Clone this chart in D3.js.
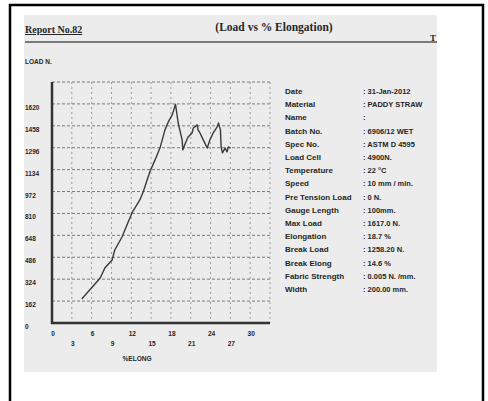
<!DOCTYPE html>
<html>
<head>
<meta charset="utf-8">
<script src="https://cdn.jsdelivr.net/npm/d3@7"></script>
<style>
  html, body { margin: 0; padding: 0; background: #fff; }
  svg { display: block; }
</style>
</head>
<body>
<svg id="chart" width="488" height="401"></svg>
<script>
// Tensile test: load vs % elongation
const elongation = [4.5, 7.3, 8.0, 9.1, 9.5, 10.6, 12.1, 13.3, 13.8, 14.8, 15.6, 16.4, 17.1, 17.6, 18.2, 18.7,
  19.1, 19.7, 19.8, 20.2, 20.6, 21.2, 21.4, 22.0, 22.1, 22.4, 22.9, 23.5, 23.9, 24.4, 25.0, 25.2,
  25.5, 25.6, 25.8, 25.9, 26.2, 26.5, 26.7, 27.0];
const load = [178, 333, 407, 466, 540, 636, 814, 910, 969, 1117, 1206, 1302, 1428, 1487, 1539, 1617,
  1479, 1354, 1280, 1331, 1376, 1405, 1442, 1465, 1428, 1405, 1354, 1294, 1354, 1405, 1450, 1479,
  1428, 1302, 1258, 1265, 1294, 1265, 1302, 1294];

const loadTicks = [0, 162, 324, 486, 648, 810, 972, 1134, 1296, 1458, 1620];
const elongTicks = [0, 3, 6, 9, 12, 15, 18, 21, 24, 27, 30];

const infoLabels = ["Date", "Material", "Name", "Batch No.", "Spec No.", "Load Cell", "Temperature",
  "Speed", "Pre Tension Load", "Gauge Length", "Max Load", "Elongation", "Break Load",
  "Break Elong", "Fabric Strength", "Width"];
const infoValues = [": 31-Jan-2012", ": PADDY STRAW", ":", ": 6906/12 WET", ": ASTM D 4595", ": 4900N.",
  ": 22 °C", ": 10 mm / min.", ": 0 N.", ": 100mm.", ": 1617.0 N.", ": 18.7 %", ": 1258.20 N.",
  ": 14.6 %", ": 0.005 N. /mm.", ": 200.00 mm."];

const svg = d3.select("#chart");
const ink = "#262626";

// page frame
svg.append("line").attr("x1", 10).attr("x2", 10).attr("y1", 4).attr("y2", 401)
  .attr("stroke", "#000").attr("stroke-width", 2.5);
svg.append("line").attr("x1", 483).attr("x2", 483).attr("y1", 4).attr("y2", 401)
  .attr("stroke", "#000").attr("stroke-width", 2.5);
svg.append("line").attr("x1", 9).attr("x2", 484).attr("y1", 5).attr("y2", 5)
  .attr("stroke", "#000").attr("stroke-width", 2.5);

// sheet
svg.append("rect").attr("x", 24).attr("y", 15).attr("width", 413).attr("height", 357)
  .attr("fill", "#ececec");

// header
svg.append("text").attr("x", 25).attr("y", 33).text("Report No.82")
  .attr("font-family", "Liberation Serif").attr("font-size", 10).attr("font-weight", "bold")
  .attr("fill", ink).attr("text-decoration", "underline");
svg.append("text").attr("x", 274).attr("y", 31).attr("text-anchor", "middle")
  .text("(Load vs % Elongation)")
  .attr("font-family", "Liberation Serif").attr("font-size", 11.5).attr("font-weight", "bold").attr("fill", ink);
svg.append("text").attr("x", 430).attr("y", 41).text("T")
  .attr("font-family", "Liberation Serif").attr("font-size", 9).attr("font-weight", "bold").attr("fill", ink);
svg.append("line").attr("x1", 25).attr("x2", 437).attr("y1", 42).attr("y2", 42)
  .attr("stroke", "#555").attr("stroke-width", 1.3);

svg.append("text").attr("x", 25).attr("y", 64).text("LOAD N.")
  .attr("font-family", "Liberation Sans").attr("font-size", 6.5).attr("font-weight", "bold").attr("fill", ink);

// scales
const x = d3.scaleLinear().domain([0, 33]).range([52, 270]);
const y = d3.scaleLinear().domain([0, 1782]).range([323, 82]);

// grid
const grid = svg.append("g");
grid.selectAll("line.h").data(loadTicks.slice(1).concat([1782])).join("line")
  .attr("x1", x(0)).attr("x2", x(33)).attr("y1", d => y(d)).attr("y2", d => y(d))
  .attr("stroke", "#7a7a7a").attr("stroke-width", 1).attr("stroke-dasharray", "3,2");
grid.selectAll("line.v").data(elongTicks.slice(1).concat([33])).join("line")
  .attr("x1", d => x(d)).attr("x2", d => x(d)).attr("y1", y(1782)).attr("y2", y(0))
  .attr("stroke", "#9a9a9a").attr("stroke-width", 1).attr("stroke-dasharray", "2,3");

// axes
svg.append("line").attr("x1", x(0)).attr("x2", x(0)).attr("y1", y(1782)).attr("y2", y(0) + 1)
  .attr("stroke", "#333").attr("stroke-width", 2.5);
svg.append("line").attr("x1", x(0) - 1).attr("x2", x(33)).attr("y1", y(0)).attr("y2", y(0))
  .attr("stroke", "#333").attr("stroke-width", 2.5);

// tick labels
svg.append("g").selectAll("text").data(loadTicks).join("text")
  .attr("x", 25).attr("y", d => y(d) + 6).text(d => d)
  .attr("font-family", "Liberation Sans").attr("font-size", 6.5).attr("font-weight", "bold").attr("fill", ink);
svg.append("g").selectAll("text").data(elongTicks).join("text")
  .attr("x", d => x(d) + 1).attr("y", (d, i) => i % 2 === 0 ? 336 : 346).attr("text-anchor", "middle").text(d => d)
  .attr("font-family", "Liberation Sans").attr("font-size", 6.5).attr("font-weight", "bold").attr("fill", ink);
svg.append("text").attr("x", 137).attr("y", 361).attr("text-anchor", "middle").text("%ELONG")
  .attr("font-family", "Liberation Sans").attr("font-size", 6.5).attr("font-weight", "bold").attr("fill", ink);

// curve
const pts = elongation.map((e, i) => [e, load[i]]);
svg.append("path").datum(pts)
  .attr("d", d3.line().x(d => x(d[0])).y(d => y(d[1])))
  .attr("fill", "none").attr("stroke", "#3a3a3a").attr("stroke-width", 1.4).attr("stroke-linejoin", "round");

// test details
const info = svg.append("g").attr("font-family", "Liberation Sans")
  .attr("font-weight", "bold").attr("fill", ink);
info.selectAll("text.l").data(infoLabels).join("text")
  .attr("x", 285).attr("y", (d, i) => 94 + i * 13.2).attr("font-size", 8).text(d => d);
info.selectAll("text.v").data(infoValues).join("text")
  .attr("x", 363).attr("y", (d, i) => 94 + i * 13.2).attr("font-size", 7.5).text(d => d);
</script>
</body>
</html>
